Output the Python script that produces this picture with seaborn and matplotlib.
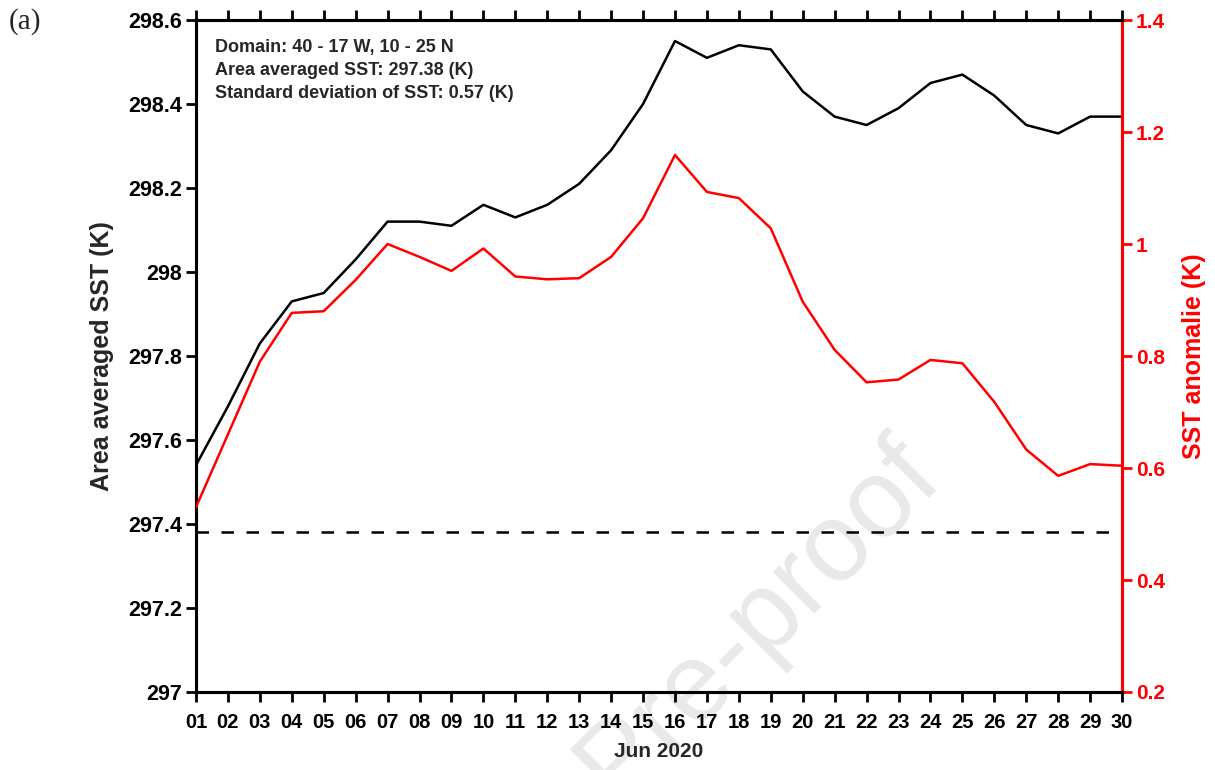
import numpy as np
import pandas as pd
import seaborn as sns
import matplotlib.pyplot as plt

# daily values, June 2020
days = list(range(1, 31))
day_labels = [f"{d:02d}" for d in days]
sst_mean = [297.54, 297.68, 297.83, 297.93, 297.95, 298.03, 298.12, 298.12, 298.11, 298.16,
            298.13, 298.16, 298.21, 298.29, 298.40, 298.55, 298.51, 298.54, 298.53, 298.43,
            298.37, 298.35, 298.39, 298.45, 298.47, 298.42, 298.35, 298.33, 298.37, 298.37]
sst_anom = [0.53, 0.66, 0.79, 0.877, 0.88, 0.936, 1.0, 0.977, 0.952, 0.992,
            0.942, 0.937, 0.939, 0.977, 1.046, 1.159, 1.093, 1.082, 1.028, 0.897,
            0.811, 0.753, 0.758, 0.793, 0.787, 0.718, 0.633, 0.586, 0.607, 0.604]
area_avg = 297.38
left_ticks = [297, 297.2, 297.4, 297.6, 297.8, 298, 298.2, 298.4, 298.6]
left_labels = ["297", "297.2", "297.4", "297.6", "297.8", "298", "298.2", "298.4", "298.6"]
right_ticks = [0.2, 0.4, 0.6, 0.8, 1.0, 1.2, 1.4]
right_labels = ["0.2", "0.4", "0.6", "0.8", "1", "1.2", "1.4"]
info_lines = ["Domain: 40 - 17 W, 10 - 25 N",
              "Area averaged SST: 297.38 (K)",
              "Standard deviation of SST: 0.57 (K)"]

df = pd.DataFrame({"day": days, "sst": sst_mean, "anom": sst_anom})

sns.set_style("ticks")
plt.rcParams['font.family'] = ['Liberation Sans', 'DejaVu Sans']

fig = plt.figure(figsize=(12.15, 7.7), dpi=100)
ax = fig.add_axes([0.1613, 0.1013, 0.7622, 0.8727])
ax2 = ax.twinx()

sns.lineplot(data=df, x="day", y="sst", color="black", lw=1.8, ax=ax, zorder=3)
ax.axhline(area_avg, color="black", lw=1.8, ls=(0, (5, 5)), zorder=3)
sns.lineplot(data=df, x="day", y="anom", color="red", lw=1.8, ax=ax2, zorder=3)

ax.set_xlim(1, 30)
ax.set_ylim(297, 298.6)
ax2.set_ylim(0.2, 1.4)
ax.set_xticks(days)
ax.set_xticklabels(day_labels)
ax.set_yticks(left_ticks)
ax.set_yticklabels(left_labels)
ax2.set_yticks(right_ticks)
ax2.set_yticklabels(right_labels)

for a in (ax, ax2):
    for s in a.spines.values():
        s.set_linewidth(2.2)
        s.set_color("black")
ax2.spines["right"].set_color("red")

ax.tick_params(axis="both", direction="out", length=7, width=2, colors="black")
ax.tick_params(axis="x", top=True, pad=8, labelsize=14.5)
ax.tick_params(axis="y", labelsize=15.5, pad=3)
ax2.tick_params(axis="y", direction="out", length=7, width=2, labelsize=15, colors="red", pad=3)
for lab in ax.get_xticklabels() + ax.get_yticklabels() + ax2.get_yticklabels():
    lab.set_fontweight("bold")

ax.set_xlabel("Jun 2020", fontsize=15, fontweight="bold", labelpad=7)
ax.set_ylabel("Area averaged SST (K)", fontsize=18, fontweight="bold", labelpad=10)
ax2.set_ylabel("SST anomalie (K)", fontsize=18, fontweight="bold", color="red", labelpad=12)

ax.text(0.021, 0.972, "\n".join(info_lines), transform=ax.transAxes, fontsize=13,
        fontweight="bold", va="top", ha="left", linespacing=1.45)

fig.text(0.007, 0.99, "(a)", fontsize=21, family=["Liberation Serif"], va="top", ha="left")

# watermark
ax.text(0.625, 0.195, "Pre-proof", transform=fig.transFigure, fontsize=80, color="#e9e9e9",
        rotation=45, ha="center", va="center", zorder=0, clip_on=False)

fig.savefig("out.png", dpi=100)
